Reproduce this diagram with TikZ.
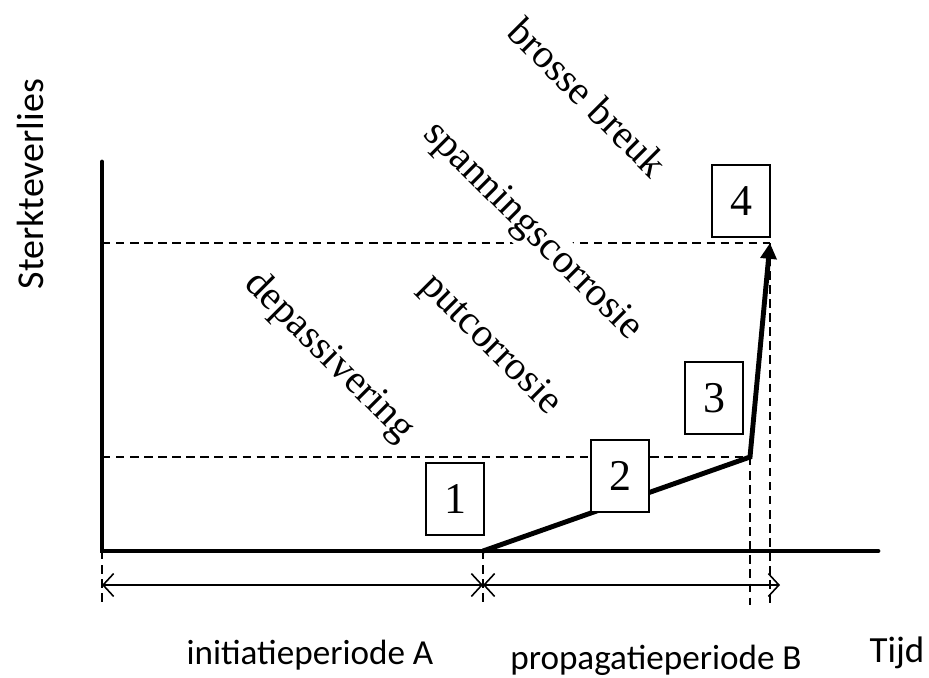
\documentclass[tikz,border=0pt]{standalone}
\usepackage{fontspec}
\setmainfont{Liberation Serif}
\setsansfont{Carlito}
\usetikzlibrary{arrows.meta}

\tikzset{
  axis/.style={line width=1.4pt, line cap=round},
  guide/.style={dash pattern=on 2.4pt off 1.6pt, line width=0.45pt},
  dim/.style={{Straight Barb[length=3pt, width=6.5pt]}-{Straight Barb[length=3pt, width=6.5pt]}, line width=0.45pt},
  stage/.style={draw, fill=white, line width=0.45pt, minimum width=0.58cm,
    minimum height=0.72cm, inner sep=0pt, font=\rmfamily\fontsize{12.5}{13}\selectfont},
  mech/.style={fill=white, rotate=-45, inner sep=1pt, font=\rmfamily\fontsize{11.5}{12}\selectfont},
  lbl/.style={font=\sffamily\fontsize{10}{12}\selectfont}
}

\begin{document}
\begin{tikzpicture}
  \useasboundingbox (0,0) rectangle (9.29,6.77);

  \coordinate (O) at (1.02,1.26);
  \coordinate (Y) at (1.02,5.15);
  \coordinate (X) at (8.78,1.26);
  \coordinate (A) at (4.83,1.26);
  \coordinate (B) at (7.50,2.20);
  \coordinate (C) at (7.70,4.34);
  \coordinate (D) at (7.80,0.92);
  \coordinate (base) at (0,0.72);

  % hulplijnen
  \draw[guide] (O |- B) -- (B);
  \draw[guide] (O |- C) -- (C);
  \draw[guide] (O) -- (O |- base);
  \draw[guide] (A) -- (A |- base);
  \draw[guide] (B) -- (B |- base);
  \draw[guide] (C) -- (C |- base);

  \draw[dim] (O |- D) -- (A |- D);
  \draw[dim] (A |- D) -- (D);

  \draw[axis] (Y) -- (O) -- (X);
  \draw[axis, line cap=butt, -{Triangle[length=4.5pt, width=4.5pt]}] (A) -- (B) -- (C);

  \node[mech] (breuk) at (5.88,5.80) {brosse breuk};
  \node[mech] (spanning) at (5.32,4.45) {spanningscorrosie};
  \node[mech] (put) at (4.90,3.32) {putcorrosie};
  \node[mech] (depas) at (3.29,3.20) {depassivering};

  \node[stage] (s1) at (4.55,1.78) {1};
  \node[stage] (s2) at (6.20,2.01) {2};
  \node[stage] (s3) at (7.14,2.79) {3};
  \node[stage] (s4) at (7.41,4.76) {4};

  \node[lbl, rotate=90, font=\sffamily\fontsize{10.8}{12}\selectfont] (ylbl) at (0.30,4.93) {Sterkteverlies};
  \node[lbl] (init) at (3.10,0.22) {initiatieperiode A};
  \node[lbl] (prop) at (6.56,0.17) {propagatieperiode B};
  \node[lbl, font=\sffamily\fontsize{10.5}{12}\selectfont] (tijd) at (8.97,0.24) {Tijd};
\end{tikzpicture}
\end{document}
